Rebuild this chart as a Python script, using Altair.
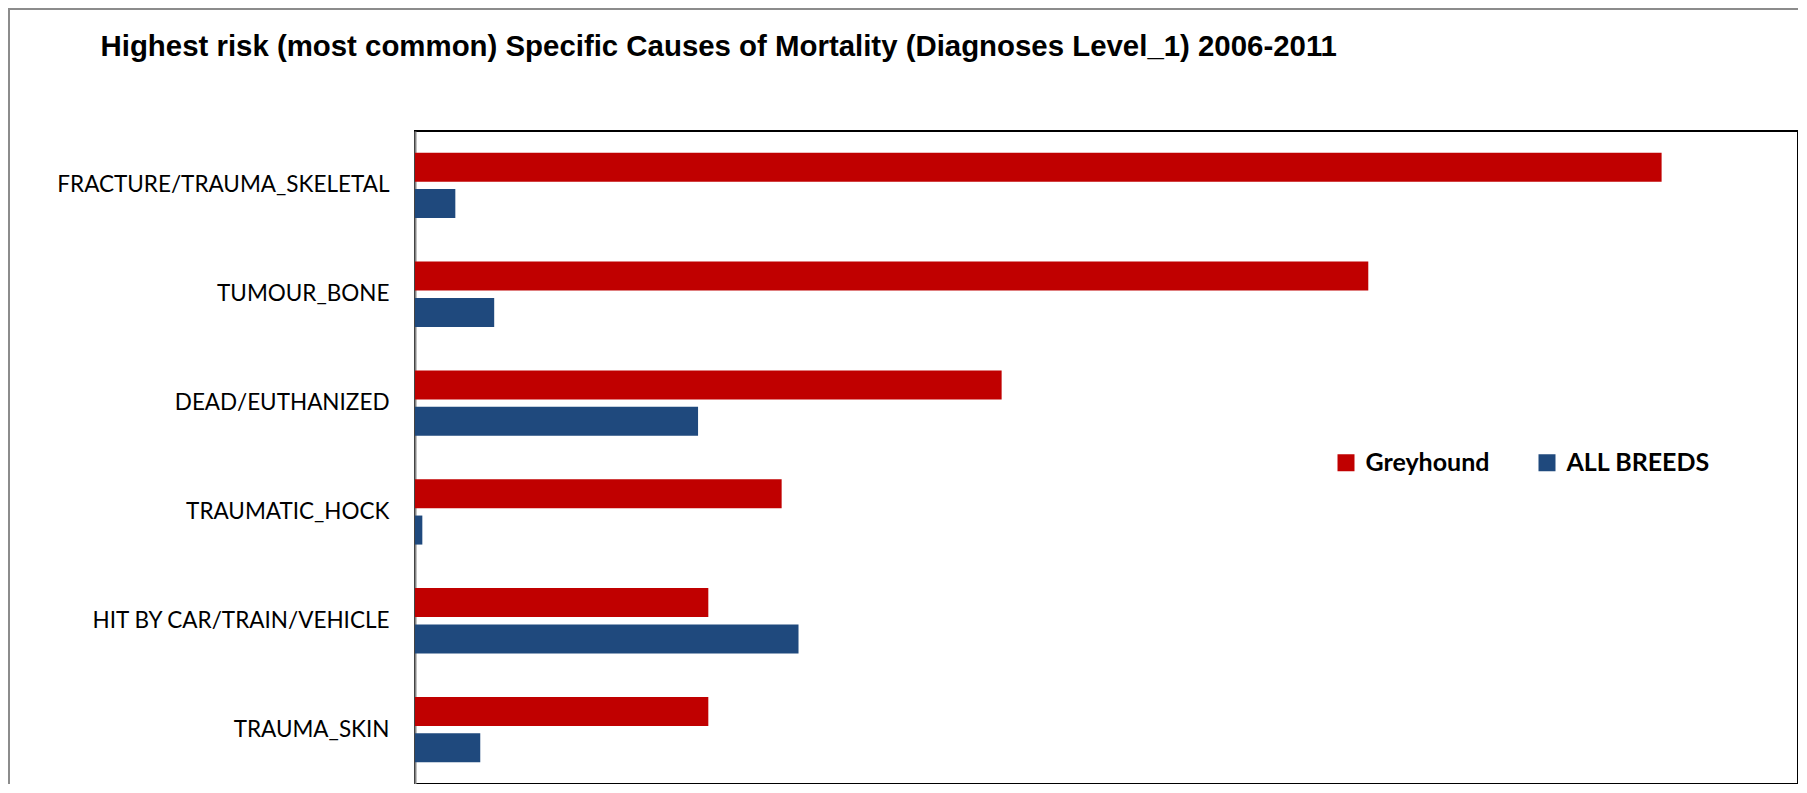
import altair as alt
import pandas as pd

causes = [
    "FRACTURE/TRAUMA_SKELETAL",
    "TUMOUR_BONE",
    "DEAD/EUTHANIZED",
    "TRAUMATIC_HOCK",
    "HIT BY CAR/TRAIN/VEHICLE",
    "TRAUMA_SKIN",
]
series = ["Greyhound", "ALL BREEDS"]
greyhound = [17.0, 13.0, 8.0, 5.0, 4.0, 4.0]
all_breeds = [0.55, 1.08, 3.86, 0.10, 5.23, 0.89]
colors = ["#C00000", "#1F497D"]

rows = []
for c, g, a in zip(causes, greyhound, all_breeds):
    rows.append({"cause": c, "series": series[0], "value": g})
    rows.append({"cause": c, "series": series[1], "value": a})
df = pd.DataFrame(rows)

W, H = 1383, 653
PL, PT = 407, 123

bars = alt.Chart(df).mark_bar(strokeWidth=0).encode(
    y=alt.Y("cause:N", sort=causes, title=None,
            scale=alt.Scale(paddingInner=0.4, paddingOuter=0.2),
            axis=alt.Axis(ticks=False, tickSize=0, labelPadding=26,
                          labelFont="Lato", labelFontSize=22.5, labelColor="#000",
                          domainColor="#868686", domainWidth=2, labelLimit=400)),
    yOffset=alt.YOffset("series:N", sort=series,
                        scale=alt.Scale(paddingInner=0.2, paddingOuter=0)),
    x=alt.X("value:Q", axis=None, scale=alt.Scale(domain=[0, 18.86], nice=False, zero=True)),
    color=alt.Color("series:N", scale=alt.Scale(domain=series, range=colors),
                    sort=series,
                    legend=alt.Legend(orient="none", legendX=918.5, legendY=319,
                                      direction="horizontal", title=None,
                                      symbolType="square", symbolSize=289,
                                      symbolStrokeWidth=0, labelFont="Lato",
                                      labelFontWeight="bold", labelFontSize=25,
                                      labelColor="#000", labelOffset=7,
                                      columnPadding=45, padding=0, labelLimit=400)),
)

frame = alt.Chart(pd.DataFrame({"k": [0]})).mark_rect(
    fill=None, stroke="#8c8c8c", strokeWidth=2
).encode(
    x=alt.value(-PL + 1), y=alt.value(-PT + 1),
    x2=alt.value(W + 100), y2=alt.value(H + 100),
)

chart = alt.layer(frame, bars).properties(
    width=W, height=H,
    autosize=alt.AutoSizeParams(type="none"),
    padding={"left": PL, "top": PT, "right": 0, "bottom": 0},
    title=alt.Title(
        "Highest risk (most common) Specific Causes of Mortality (Diagnoses Level_1) 2006-2011",
        anchor="start", frame="group", dx=-314.5, dy=126, offset=72,
        font="Liberation Sans", fontSize=29.4, fontWeight="bold", color="#000",
    ),
).configure_view(stroke="#000", strokeWidth=2)

chart.save("out.html", embed_options={"renderer": "svg", "actions": False})
